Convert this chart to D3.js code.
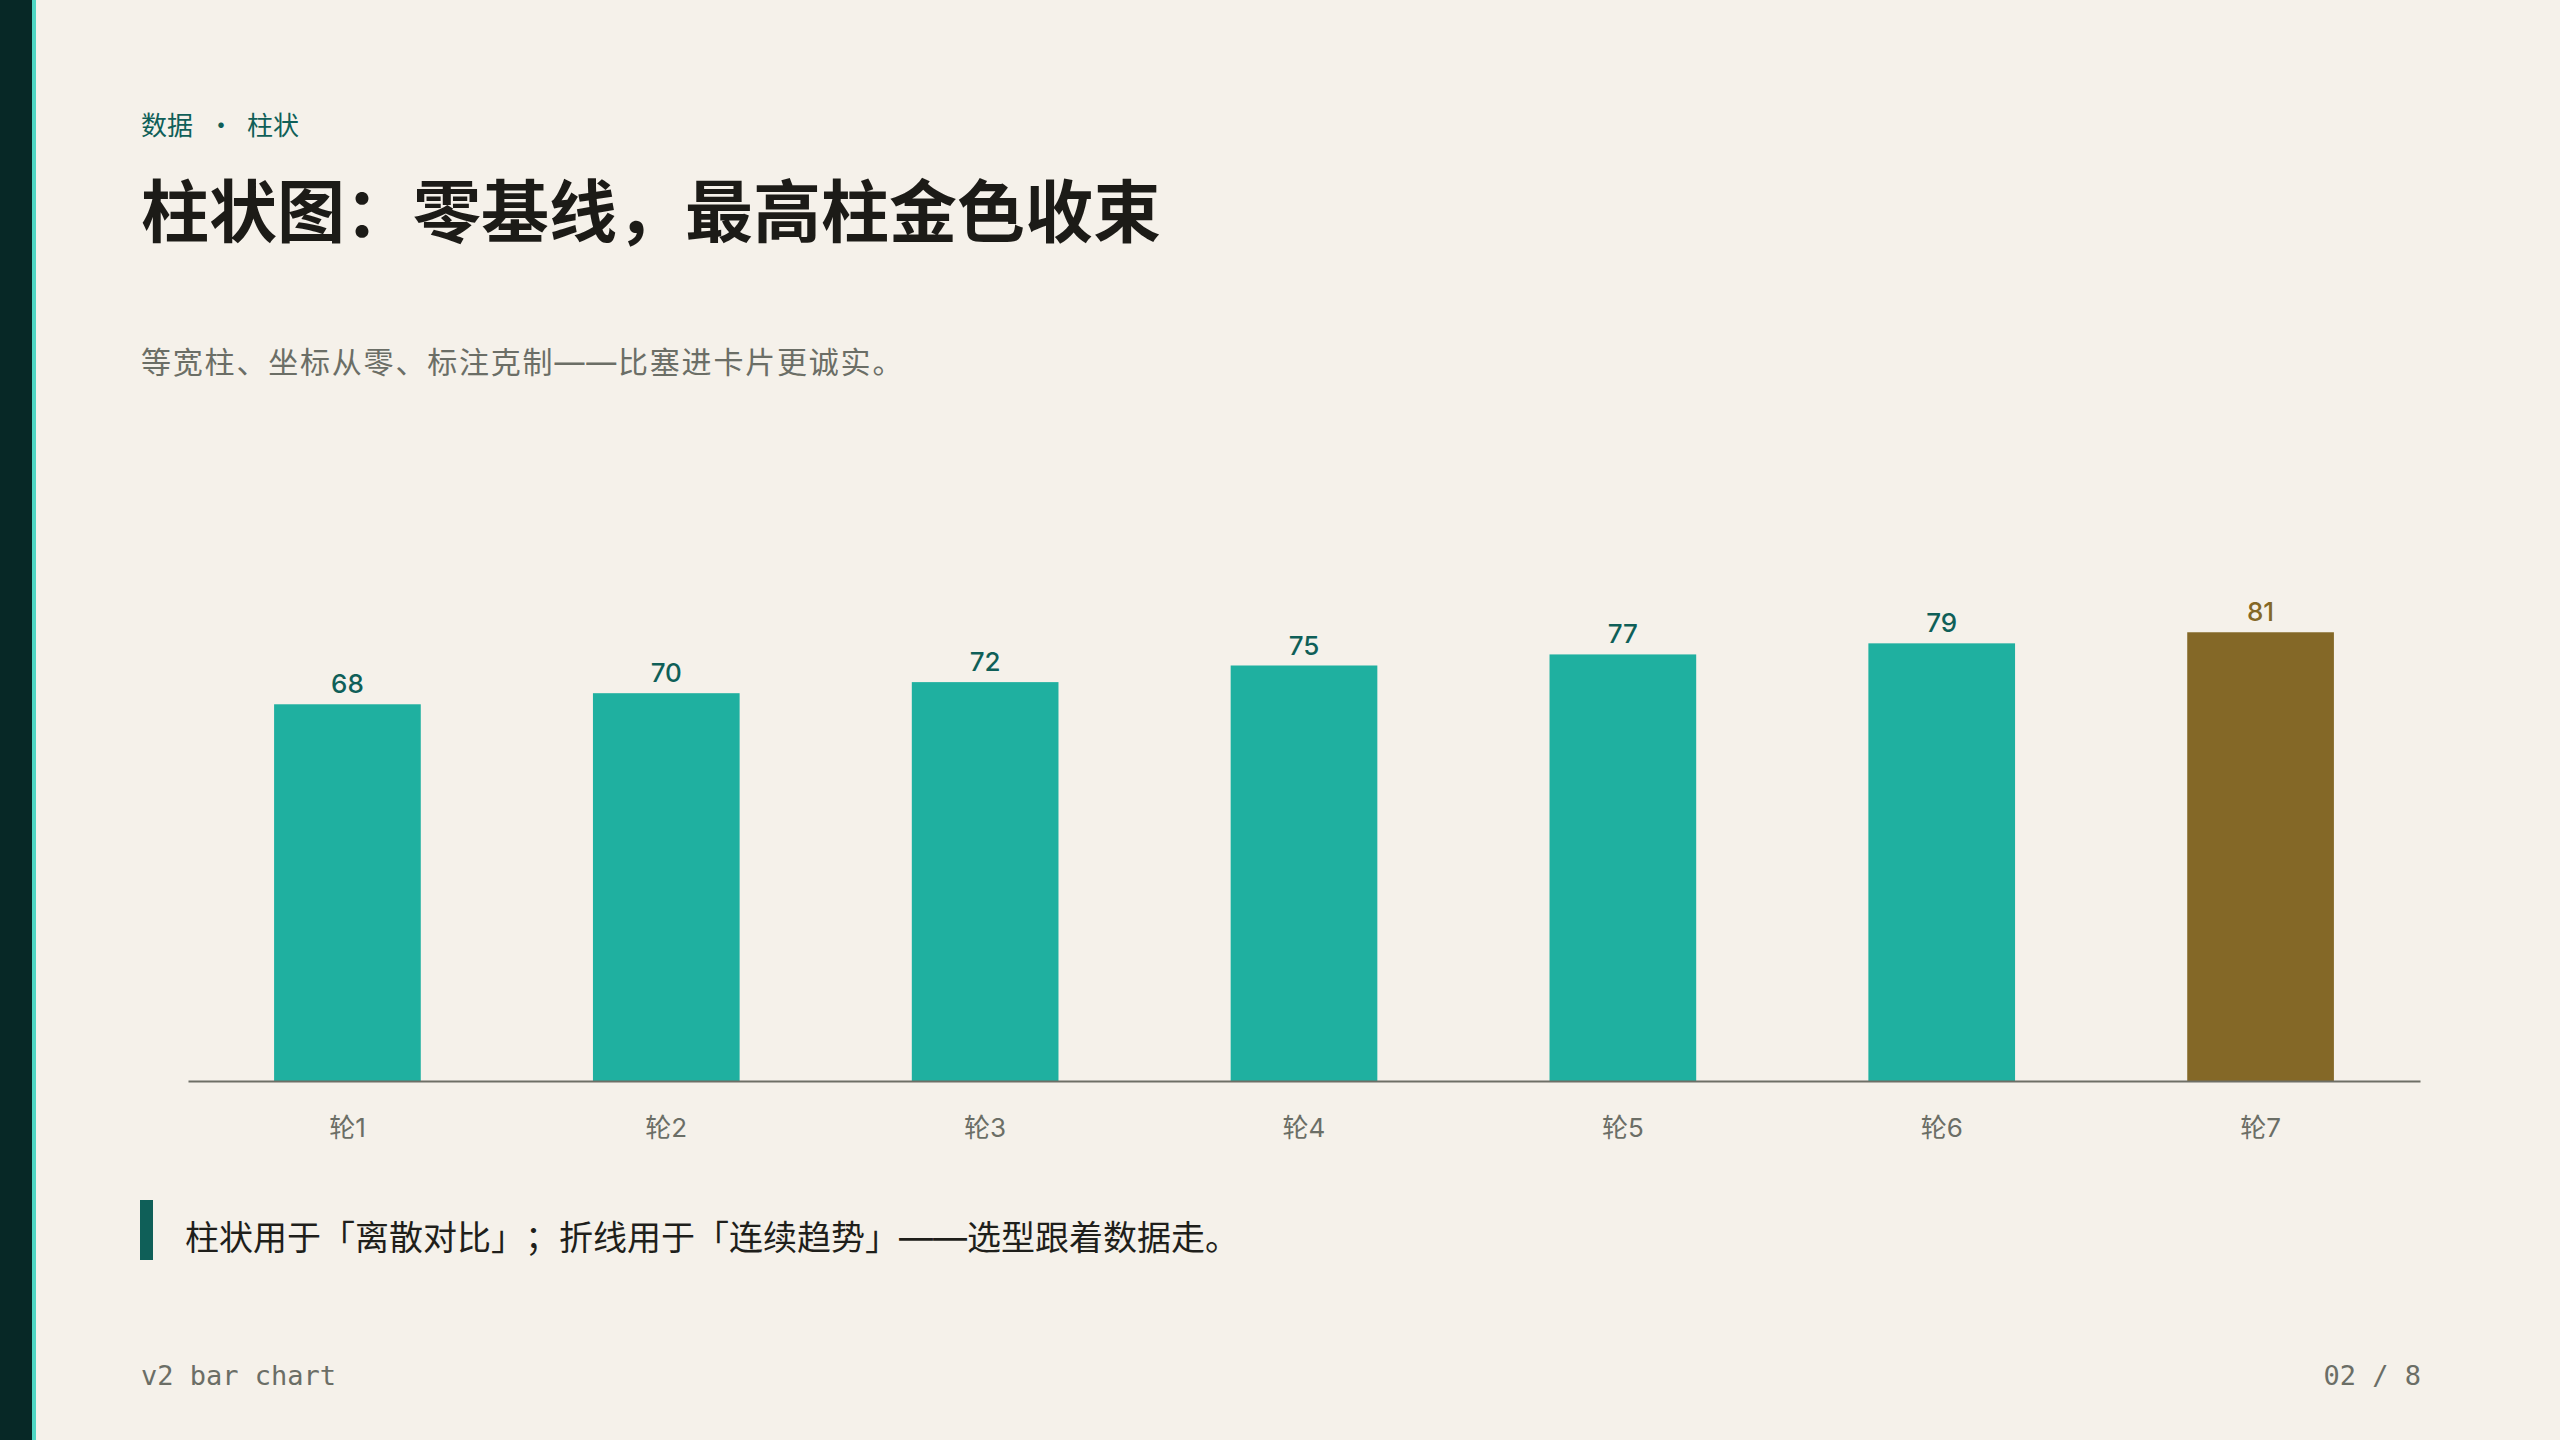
<!DOCTYPE html>
<html>
<head>
<meta charset="utf-8">
<script src="https://cdn.jsdelivr.net/npm/d3@7"></script>
<style>
  html, body { margin: 0; padding: 0; background: #f5f1ea; }
  svg { display: block; }
  text { text-spacing-trim: space-all; }
</style>
</head>
<body>
<script>
const categories = ["轮1", "轮2", "轮3", "轮4", "轮5", "轮6", "轮7"];
const values = [68, 70, 72, 75, 77, 79, 81];
const yDomain = [0, 100];

const W = 2560, H = 1440;
const CJK = "Inter, 'Noto Sans CJK SC', 'Noto Sans', sans-serif";
const svg = d3.select("body").append("svg").attr("width", W).attr("height", H);

svg.append("rect").attr("width", W).attr("height", H).attr("fill", "#f5f1ea");
svg.append("rect").attr("x", 0).attr("y", 0).attr("width", 32).attr("height", H).attr("fill", "#072826");
svg.append("rect").attr("x", 32).attr("y", 0).attr("width", 4).attr("height", H).attr("fill", "#4fd6c3");

// kicker
const kick = svg.append("g").attr("font-family", CJK).attr("font-size", 26).attr("fill", "#0f5f58");
kick.append("text").attr("x", 141).attr("y", 135).text("数据");
kick.append("text").attr("x", 221).attr("y", 135).attr("text-anchor", "middle")
  .attr("font-family", "'Noto Sans CJK SC', sans-serif").text("·");
kick.append("text").attr("x", 247).attr("y", 135).text("柱状");

// title
svg.append("text").attr("x", 141).attr("y", 237)
  .attr("font-family", CJK).attr("font-size", 68).attr("font-weight", 700)
  .attr("fill", "#1c1b17").text("柱状图：零基线，最高柱金色收束");

// subtitle
svg.append("text").attr("x", 141).attr("y", 373)
  .attr("font-family", CJK).attr("font-size", 30).attr("letter-spacing", 1.8)
  .attr("fill", "#6b6e66").text("等宽柱、坐标从零、标注克制——比塞进卡片更诚实。");

// chart
const x = d3.scaleBand().domain(categories).range([188, 2420]).paddingInner(0.54).paddingOuter(0.27);
const y = d3.scaleLinear().domain(yDomain).range([1081, 527]);
const maxV = d3.max(values);
const data = categories.map((c, i) => ({ c, v: values[i] }));

svg.append("g").selectAll("rect").data(data).join("rect")
  .attr("x", d => x(d.c)).attr("width", x.bandwidth())
  .attr("y", d => y(d.v)).attr("height", d => y(0) - y(d.v))
  .attr("fill", d => d.v === maxV ? "#846827" : "#1fb0a0");

svg.append("g").selectAll("text").data(data).join("text")
  .attr("x", d => x(d.c) + x.bandwidth() / 2).attr("y", d => y(d.v) - 11)
  .attr("text-anchor", "middle")
  .attr("font-family", "Inter, 'Noto Sans', sans-serif").attr("font-size", 26).attr("font-weight", 500)
  .attr("fill", d => d.v === maxV ? "#846827" : "#0f5f58")
  .text(d => d.v);

const ax = svg.append("g").attr("transform", `translate(0,${y(0)})`)
  .call(d3.axisBottom(x).tickSize(0).tickSizeOuter(0));
ax.select(".domain").attr("stroke", "#6e6f66").attr("stroke-width", 2);
ax.selectAll(".tick text")
  .attr("y", 56).attr("dy", 0)
  .attr("font-family", CJK).attr("font-size", 26).attr("fill", "#6b6e66");

// footnote
svg.append("rect").attr("x", 140).attr("y", 1200).attr("width", 13).attr("height", 60).attr("fill", "#0f5f58");
svg.append("text").attr("x", 185).attr("y", 1250)
  .attr("font-family", CJK).attr("font-size", 34).attr("fill", "#1f1f1b")
  .text("柱状用于「离散对比」；折线用于「连续趋势」——选型跟着数据走。");

// footer
svg.append("text").attr("x", 141).attr("y", 1385)
  .attr("font-family", "'DejaVu Sans Mono', monospace").attr("font-size", 27)
  .attr("fill", "#6b6e66").text("v2 bar chart");
svg.append("text").attr("x", 2421).attr("y", 1385).attr("text-anchor", "end")
  .attr("font-family", "'DejaVu Sans Mono', monospace").attr("font-size", 27)
  .attr("fill", "#6b6e66").text("02 / 8");
</script>
</body>
</html>
